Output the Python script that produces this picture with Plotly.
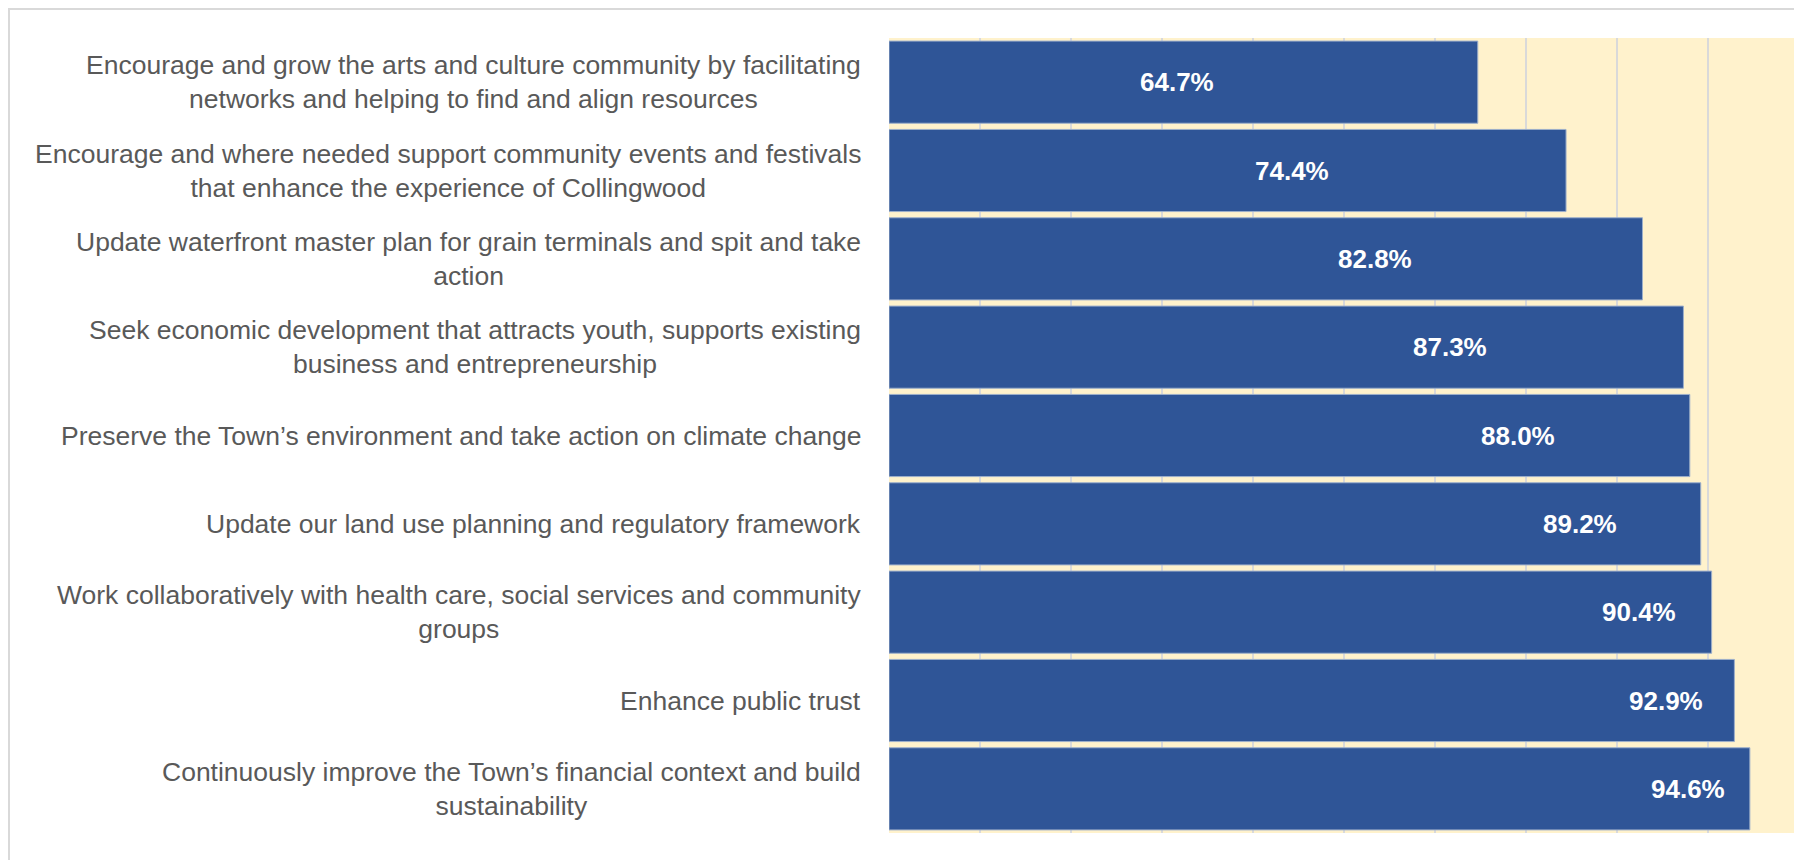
import plotly.graph_objects as go

# ---- data ----
categories = [
    "Encourage and grow the arts and culture community by facilitating<br>networks and helping to find and align resources",
    "Encourage and where needed support community events and festivals<br>that enhance the experience of Collingwood",
    "Update waterfront master plan for grain terminals and spit and take<br>action",
    "Seek economic development that attracts youth, supports existing<br>business and entrepreneurship",
    "Preserve the Town\u2019s environment and take action on climate change",
    "Update our land use planning and regulatory framework",
    "Work collaboratively with health care, social services and community<br>groups",
    "Enhance public trust",
    "Continuously improve the Town\u2019s financial context and build<br>sustainability",
]
values = [64.7, 74.4, 82.8, 87.3, 88.0, 89.2, 90.4, 92.9, 94.6]
value_labels = [f"{v:.1f}%" for v in values]

# label placement inside bars (data units along x), as in the original
label_x = [31.6, 44.3, 53.4, 61.6, 69.1, 75.9, 82.4, 85.4, 87.8]

# ---- style ----
# page has an 8px body margin, so the figure is sized to fit inside the window
W, H = 1794, 852
L, R, T, B = 881, 3, 30, 27
BAR = "#2F5597"
CREAM = "#FFF2CC"
GRID = "#D9D9D9"
TXT = "#595959"
FONT = "Liberation Sans, Arial, sans-serif"

fig = go.Figure()
fig.add_trace(go.Bar(
    x=values, y=categories, orientation="h",
    marker=dict(color=BAR, line=dict(color="#9DAFCB", width=1)),
    hoverinfo="x+y",
))

ann = []
for c, lx, t in zip(categories, label_x, value_labels):
    ann.append(dict(x=lx, y=c, xref="x", yref="y", text=t, showarrow=False,
                    xanchor="center", yanchor="middle",
                    font=dict(family=FONT, size=26, color="white", weight="bold")))
    ann.append(dict(x=0, y=c, xref="paper", yref="y", text=c, showarrow=False,
                    xanchor="right", yanchor="middle", align="center", xshift=-26,
                    font=dict(family=FONT, size=26.5, color=TXT)))

pw = W - L - R
ph = H - T - B
def px_x(p):
    return (p - L) / pw
def px_y(p):
    return 1 - (p - T) / ph

fig.update_layout(
    width=W, height=H,
    margin=dict(l=L, r=R, t=T, b=B, pad=0),
    paper_bgcolor="white", plot_bgcolor=CREAM,
    bargap=0.07, showlegend=False,
    font=dict(family=FONT, color=TXT),
    xaxis=dict(range=[0, 100], dtick=10, showgrid=True, gridcolor=GRID, gridwidth=1.5,
               showticklabels=False, zeroline=False, showline=False, ticks=""),
    yaxis=dict(autorange="reversed", showticklabels=False, showgrid=False,
               zeroline=False, showline=False, ticks=""),
    annotations=ann,
    shapes=[dict(type="rect", xref="paper", yref="paper",
                 x0=px_x(1), x1=px_x(1792), y0=px_y(870), y1=px_y(1),
                 line=dict(color=GRID, width=2), fillcolor="rgba(0,0,0,0)", layer="above")],
)

fig.write_html("out.html")
